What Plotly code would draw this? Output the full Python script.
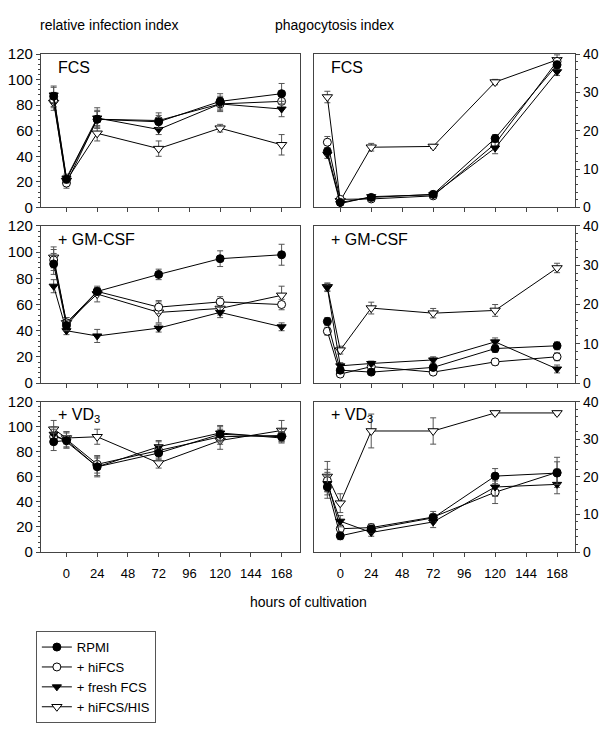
import plotly.graph_objects as go

hours = [-10, 0, 24, 72, 120, 168]
x_ticks = [0, 24, 48, 72, 96, 120, 144, 168]
series_names = ["RPMI", "+ hiFCS", "+ fresh FCS", "+ hiFCS/HIS"]

# relative infection index (left column)
inf_fcs_rpmi = [87, 22, 69, 67, 83, 89]
inf_fcs_hifcs = [84, 19, 69, 68, 81, 83]
inf_fcs_fresh = [88, 23, 70, 61, 81, 77]
inf_fcs_his = [82, 21, 58, 46, 62, 49]
inf_fcs_err_rpmi = [8, 3, 7, 5, 6, 8]
inf_fcs_err_hifcs = [6, 4, 6, 6, 6, 5]
inf_fcs_err_fresh = [6, 3, 8, 4, 5, 6]
inf_fcs_err_his = [6, 3, 6, 6, 3, 8]

inf_gm_rpmi = [91, 44, 70, 83, 95, 98]
inf_gm_hifcs = [94, 46, 70, 58, 62, 60]
inf_gm_fresh = [74, 40, 36, 42, 54, 43]
inf_gm_his = [96, 46, 68, 54, 57, 67]
inf_gm_err_rpmi = [8, 4, 3, 4, 6, 8]
inf_gm_err_hifcs = [8, 4, 3, 5, 4, 4]
inf_gm_err_fresh = [5, 3, 5, 3, 4, 3]
inf_gm_err_his = [8, 4, 6, 8, 5, 7]

inf_vd_rpmi = [88, 89, 68, 79, 94, 92]
inf_vd_hifcs = [92, 90, 70, 81, 92, 93]
inf_vd_fresh = [94, 88, 68, 84, 95, 91]
inf_vd_his = [98, 91, 92, 71, 89, 97]
inf_vd_err_rpmi = [7, 6, 7, 6, 6, 4]
inf_vd_err_hifcs = [6, 6, 7, 7, 6, 5]
inf_vd_err_fresh = [6, 5, 8, 5, 6, 4]
inf_vd_err_his = [7, 5, 6, 4, 7, 8]

# phagocytosis index (right column)
ph_fcs_rpmi = [14.6, 1.3, 2.6, 3.4, 18, 37.2]
ph_fcs_hifcs = [17, 2.1, 2.2, 3.0, 16.6, 38.1]
ph_fcs_fresh = [13.8, 1.0, 2.8, 3.3, 15.5, 35.4]
ph_fcs_his = [28.8, 1.7, 15.7, 15.9, 32.7, 38.5]
ph_fcs_err_rpmi = [1, 0.5, 0.5, 0.5, 1, 1]
ph_fcs_err_hifcs = [1.5, 0.5, 0.5, 0.5, 1, 1]
ph_fcs_err_fresh = [1, 0.5, 0.5, 0.5, 1.5, 1]
ph_fcs_err_his = [1.5, 0.5, 1, 0.5, 0.7, 1.3]

ph_gm_rpmi = [15.7, 3.3, 2.8, 4.0, 8.8, 9.5]
ph_gm_hifcs = [13.2, 2.3, 4.2, 2.8, 5.4, 6.7]
ph_gm_fresh = [24.3, 4.4, 5.0, 5.9, 10.5, 3.6]
ph_gm_his = [24.5, 8.4, 19.1, 17.8, 18.5, 29.3]
ph_gm_err_rpmi = [1, 0.8, 0.6, 0.8, 1, 1]
ph_gm_err_hifcs = [1, 0.6, 0.6, 0.6, 0.8, 1]
ph_gm_err_fresh = [1, 0.8, 0.6, 0.8, 1, 1]
ph_gm_err_his = [1, 1, 1.5, 1.2, 1.5, 1.2]

ph_vd_rpmi = [17.3, 4.3, 6.1, 9.1, 20.2, 21.0]
ph_vd_hifcs = [19, 6.2, 6.5, 9.3, 15.9, 21.2]
ph_vd_fresh = [18.2, 8.2, 5.2, 8.0, 17.3, 18.0]
ph_vd_his = [20.1, 13.0, 32.2, 32.2, 37, 37]
ph_vd_err_rpmi = [3, 1, 1, 1, 2, 3]
ph_vd_err_hifcs = [3, 1, 1, 1.5, 3, 4]
ph_vd_err_fresh = [3, 1.5, 1, 1.5, 2.5, 2.5]
ph_vd_err_his = [4, 2.5, 4.5, 3.5, 0.5, 0.5]

panel_labels = ["FCS", "FCS", "+ GM-CSF", "+ GM-CSF", "+ VD<sub>3</sub>", "+ VD<sub>3</sub>"]

panels = [
    ([inf_fcs_rpmi, inf_fcs_hifcs, inf_fcs_fresh, inf_fcs_his],
     [inf_fcs_err_rpmi, inf_fcs_err_hifcs, inf_fcs_err_fresh, inf_fcs_err_his]),
    ([ph_fcs_rpmi, ph_fcs_hifcs, ph_fcs_fresh, ph_fcs_his],
     [ph_fcs_err_rpmi, ph_fcs_err_hifcs, ph_fcs_err_fresh, ph_fcs_err_his]),
    ([inf_gm_rpmi, inf_gm_hifcs, inf_gm_fresh, inf_gm_his],
     [inf_gm_err_rpmi, inf_gm_err_hifcs, inf_gm_err_fresh, inf_gm_err_his]),
    ([ph_gm_rpmi, ph_gm_hifcs, ph_gm_fresh, ph_gm_his],
     [ph_gm_err_rpmi, ph_gm_err_hifcs, ph_gm_err_fresh, ph_gm_err_his]),
    ([inf_vd_rpmi, inf_vd_hifcs, inf_vd_fresh, inf_vd_his],
     [inf_vd_err_rpmi, inf_vd_err_hifcs, inf_vd_err_fresh, inf_vd_err_his]),
    ([ph_vd_rpmi, ph_vd_hifcs, ph_vd_fresh, ph_vd_his],
     [ph_vd_err_rpmi, ph_vd_err_hifcs, ph_vd_err_fresh, ph_vd_err_his]),
]

# the page body has an 8px margin: the figure is sized to fit inside the window
OFF = 8
W, H = 607 - 2 * OFF, 734 - 2 * OFF
FONT = "Arial, Liberation Sans, Helvetica, sans-serif"


def px(p):
    return (p - OFF) / W


def py(p):
    return 1 - (p - OFF) / H


marker_styles = [
    dict(symbol="circle", color="black", size=8, line=dict(color="black", width=1)),
    dict(symbol="circle", color="white", size=8, line=dict(color="black", width=1)),
    dict(symbol="triangle-down", color="black", size=8, line=dict(color="black", width=1)),
    dict(symbol="triangle-down", color="white", size=9, line=dict(color="black", width=1)),
]

# page-pixel boxes of each panel
col_x = [(38, 298), (313, 575)]
row_y = [(46, 203), (222, 383), (402, 556)]

fig = go.Figure()
for i, (vals, errs) in enumerate(panels):
    ax = "" if i == 0 else str(i + 1)
    for s in [3, 1, 2, 0]:
        fig.add_trace(go.Scatter(
            x=hours, y=vals[s], name=series_names[s],
            mode="lines+markers",
            line=dict(color="black", width=1),
            marker=marker_styles[s],
            error_y=dict(type="data", array=errs[s], color="#555555", thickness=1, width=3),
            xaxis="x" + ax, yaxis="y" + ax,
            showlegend=False,
        ))

for s in range(4):
    fig.add_trace(go.Scatter(
        x=[None], y=[None], name=series_names[s], mode="lines+markers",
        line=dict(color="black", width=1), marker=marker_styles[s],
        xaxis="x", yaxis="y", showlegend=True,
    ))

layout = dict(
    width=W, height=H,
    margin=dict(l=0, r=0, t=0, b=0),
    paper_bgcolor="white", plot_bgcolor="white",
    font=dict(family=FONT, size=13, color="black"),
    showlegend=True,
    legend=dict(
        x=px(33), y=py(637), xanchor="left", yanchor="top",
        bordercolor="#555555", borderwidth=1, bgcolor="white",
        font=dict(size=13, family=FONT), tracegroupgap=0,
        itemwidth=30,
    ),
)

annotations = []
for i in range(6):
    r, c = divmod(i, 2)
    x0, x1 = col_x[c]
    yt, yb = row_y[r]
    ax = "" if i == 0 else str(i + 1)
    left = c == 0
    bottom = r == 2
    layout["xaxis" + ax] = dict(
        domain=[px(x0), px(x1)], range=[-20, 182],
        anchor="y" + ax, tickvals=x_ticks,
        showticklabels=bottom, ticks="outside", ticklen=4,
        tickcolor="#444", showline=True, linecolor="#444", linewidth=1,
        mirror=True, showgrid=False, zeroline=False,
        tickfont=dict(size=13), ticklabelstandoff=5,
    )
    layout["yaxis" + ax] = dict(
        domain=[py(yb), py(yt)], range=[0, 120 if left else 40],
        anchor="x" + ax, side="left" if left else "right",
        dtick=20 if left else 10, ticks="outside", ticklen=4,
        tickcolor="#444", showline=True, linecolor="#444", linewidth=1,
        mirror=True, showgrid=False, zeroline=False,
        minor=dict(dtick=4 if left else 2, ticks="outside", ticklen=2, tickcolor="#444"),
        tickfont=dict(size=15 if left else 14),
    )
    annotations.append(dict(
        text=panel_labels[i], x=px(x0 + 15), y=py(yt + 14),
        xref="paper", yref="paper", xanchor="left", yanchor="middle",
        showarrow=False, font=dict(size=16, family=FONT),
    ))

annotations += [
    dict(text="relative infection index", x=px(35), y=py(16), xref="paper", yref="paper",
         xanchor="left", yanchor="middle", showarrow=False, font=dict(size=14, family=FONT)),
    dict(text="phagocytosis index", x=px(271), y=py(16), xref="paper", yref="paper",
         xanchor="left", yanchor="middle", showarrow=False, font=dict(size=14, family=FONT)),
    dict(text="hours of cultivation", x=px(307), y=py(607), xref="paper", yref="paper",
         xanchor="center", yanchor="middle", showarrow=False, font=dict(size=14, family=FONT)),
]
layout["annotations"] = annotations
fig.update_layout(**layout)
fig.write_html("out.html")
